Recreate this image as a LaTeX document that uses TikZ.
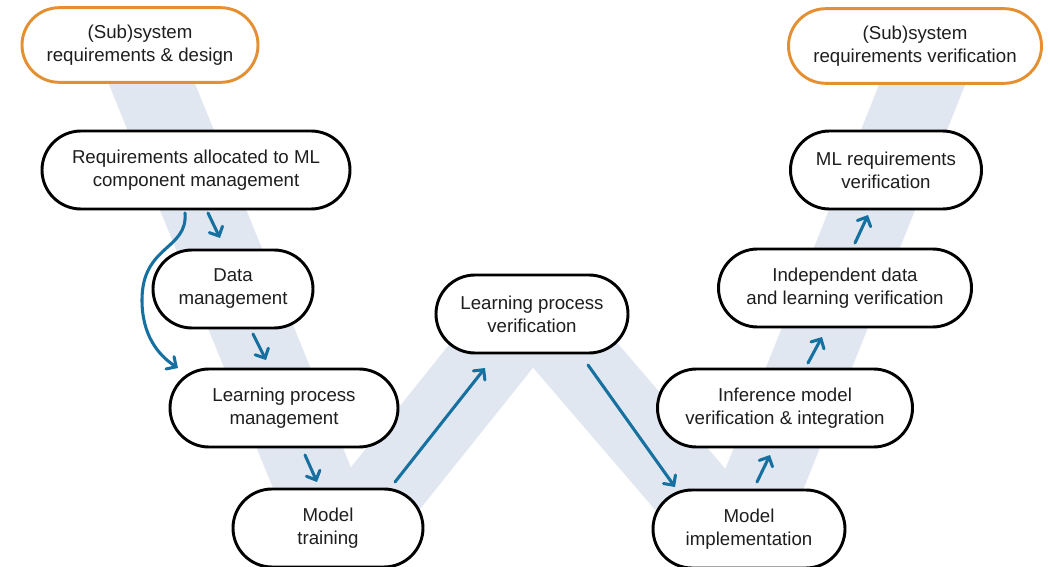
\documentclass[tikz,border=0pt]{standalone}
\usepackage{fontspec}
\setmainfont{Liberation Sans}
\usetikzlibrary{shapes.misc,arrows.meta}
\definecolor{bandc}{RGB}{225,231,240}
\definecolor{orng}{RGB}{228,144,50}
\definecolor{arr}{RGB}{22,112,160}
\definecolor{txt}{RGB}{30,30,30}
\begin{document}
\begin{tikzpicture}[x=0.75pt,y=-0.75pt,
  box/.style={rounded rectangle, draw=black, line width=2.2pt, fill=white, align=center,
    inner sep=0pt, text=txt, minimum height=58.5pt, font=\fontsize{14}{17.25}\selectfont},
  obox/.style={box, draw=orng, minimum height=56pt},
  flow/.style={draw=arr, line width=2.3pt, line cap=round,
    -{Straight Barb[length=5.5pt,width=11pt,line cap=round]}}]
\useasboundingbox[fill=white] (0,0) rectangle (1050,567);
% V band
\draw[bandc, line width=60pt, line join=bevel] (128,25) -- (339.5,545.6) -- (532,305) -- (738,545) -- (946,25);
% nodes
\node[obox, minimum width=177pt] (o1) at (140,45) {(Sub)system\\requirements \& design};
\node[box, minimum width=231pt] (n2) at (196,170) {Requirements allocated to ML\\component management};
\node[box, minimum width=120pt] (n3) at (233,289) {Data\\management};
\node[box, minimum width=171pt] (n4) at (284,408) {Learning process\\management};
\node[box, minimum width=142.5pt] (n5) at (328,528) {Model\\training};
\node[box, minimum width=144pt] (n6) at (532,314) {Learning process\\verification};
\node[box, minimum width=144pt] (n7) at (749,529) {Model\\implementation};
\node[box, minimum width=191.25pt] (n8) at (785,408) {Inference model\\verification \& integration};
\node[box, minimum width=189.75pt] (n9) at (845,288) {Independent data\\and learning verification};
\node[box, minimum width=143.25pt] (n10) at (886,170) {ML requirements\\verification};
\node[obox, minimum width=189.75pt] (o11) at (915,46) {(Sub)system\\requirements verification};
% arrow end points
\coordinate (a1) at (208,213); \coordinate (a2) at (220,238);
\coordinate (b1) at (185,213); \coordinate (b2) at (178,368);
\coordinate (c1) at (253,334); \coordinate (c2) at (266,360);
\coordinate (d1) at (305,455); \coordinate (d2) at (317,482);
\coordinate (e1) at (395,482); \coordinate (e2) at (485,368);
\coordinate (f1) at (588,365); \coordinate (f2) at (675,487);
\coordinate (g1) at (757,482); \coordinate (g2) at (770,455);
\coordinate (h1) at (808,363); \coordinate (h2) at (822,337);
\coordinate (i1) at (855,243); \coordinate (i2) at (868,215);
% arrows
\draw[flow] (a1) -- (a2);
\draw[flow] (b1) .. controls (188,250) and (142,245) .. (142,300) .. controls (142,335) and (158,355) .. (b2);
\draw[flow] (c1) -- (c2);
\draw[flow] (d1) -- (d2);
\draw[flow] (e1) -- (e2);
\draw[flow] (f1) -- (f2);
\draw[flow] (g1) -- (g2);
\draw[flow] (h1) -- (h2);
\draw[flow] (i1) -- (i2);
\end{tikzpicture}
\end{document}
